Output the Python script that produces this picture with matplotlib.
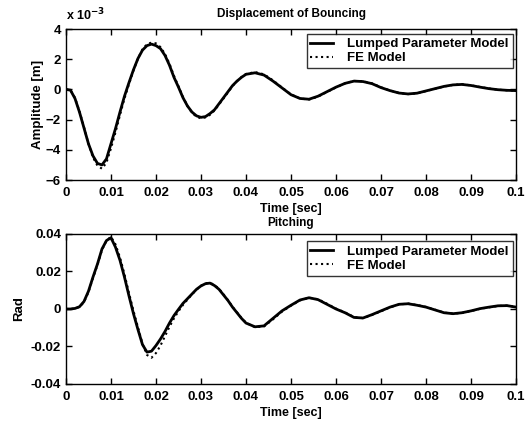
import matplotlib
matplotlib.use("Agg")
import matplotlib.pyplot as plt

plt.rcParams['font.family'] = ['Liberation Sans', 'DejaVu Sans']
plt.rcParams['font.weight'] = 'bold'

# fine steps up to 0.04 s, coarser afterwards
time = [i * 0.001 for i in range(41)] + [0.04 + i * 0.002 for i in range(1, 31)]

# bouncing displacement, in units of 1e-3 m
bounce_lumped = [0.0, -0.05, -0.6, -1.5, -2.55, -3.6, -4.4, -4.9, -5.0, -4.6,
                 -3.6, -2.6, -1.5, -0.45, 0.45, 1.3, 2.05, 2.6, 2.9, 3.0,
                 2.9, 2.7, 2.25, 1.6, 0.8, 0.15, -0.55, -1.1, -1.5, -1.75,
                 -1.85, -1.8, -1.6, -1.35, -0.95, -0.55, -0.15, 0.25, 0.55, 0.8,
                 1.0,
                 1.1, 0.95, 0.55, 0.1, -0.35, -0.6, -0.65, -0.45, -0.15, 0.15,
                 0.4, 0.55, 0.52, 0.38, 0.12, -0.08, -0.24, -0.3, -0.25, -0.1,
                 0.05, 0.2, 0.3, 0.33, 0.26, 0.15, 0.05, -0.02, -0.06, -0.08]
bounce_fe = [0.0, -0.05, -0.55, -1.45, -2.5, -3.6, -4.5, -5.05, -5.25, -4.85,
             -3.9, -2.85, -1.7, -0.6, 0.35, 1.25, 2.05, 2.65, 3.0, 3.1,
             3.05, 2.8, 2.35, 1.7, 0.9, 0.2, -0.5, -1.1, -1.55, -1.8,
             -1.92, -1.85, -1.68, -1.4, -1.0, -0.6, -0.2, 0.22, 0.55, 0.82,
             1.02,
             1.15, 1.0, 0.6, 0.12, -0.33, -0.6, -0.67, -0.48, -0.17, 0.13,
             0.4, 0.56, 0.54, 0.4, 0.14, -0.07, -0.23, -0.31, -0.26, -0.11,
             0.04, 0.19, 0.3, 0.34, 0.27, 0.16, 0.06, -0.02, -0.06, -0.08]

# pitching angle, rad
pitch_lumped = [0.0, 0.0, 0.0003, 0.0012, 0.004, 0.0095, 0.017, 0.024, 0.032, 0.0365,
                0.038, 0.033, 0.026, 0.017, 0.007, -0.0025, -0.011, -0.019, -0.023, -0.0225,
                -0.0195, -0.016, -0.012, -0.0075, -0.0035, -0.0002, 0.003, 0.0055, 0.008, 0.0105,
                0.0123, 0.0135, 0.0138, 0.0125, 0.0105, 0.0075, 0.0045, 0.001, -0.002, -0.005,
                -0.0075,
                -0.0095, -0.009, -0.005, -0.001, 0.002, 0.0048, 0.006, 0.005, 0.0025, 0.0,
                -0.002, -0.0045, -0.0048, -0.003, -0.001, 0.001, 0.0025, 0.0028, 0.002, 0.001,
                -0.0005, -0.002, -0.0025, -0.002, -0.001, 0.0002, 0.001, 0.0017, 0.0018, 0.001]
pitch_fe = [0.0, 0.0, 0.0003, 0.0011, 0.0037, 0.009, 0.0165, 0.0235, 0.0315, 0.0365,
            0.0385, 0.0345, 0.0275, 0.0185, 0.0085, -0.001, -0.0098, -0.0185, -0.0245, -0.026,
            -0.0235, -0.0195, -0.0145, -0.0095, -0.005, -0.0012, 0.0022, 0.005, 0.0078, 0.0103,
            0.0124, 0.0137, 0.014, 0.0128, 0.0108, 0.0078, 0.0047, 0.0012, -0.0018, -0.0048,
            -0.0073,
            -0.0097, -0.0093, -0.0055, -0.0014, 0.0018, 0.0046, 0.006, 0.0052, 0.0028, 0.0002,
            -0.0018, -0.0043, -0.0049, -0.0032, -0.0012, 0.0009, 0.0024, 0.0029, 0.0021, 0.0011,
            -0.0004, -0.0019, -0.0025, -0.0021, -0.0011, 0.0001, 0.0009, 0.0016, 0.0018, 0.0011]

x_ticks = [0, 0.01, 0.02, 0.03, 0.04, 0.05, 0.06, 0.07, 0.08, 0.09, 0.1]
x_ticklabels = ['0', '0.01', '0.02', '0.03', '0.04', '0.05', '0.06', '0.07', '0.08', '0.09', '0.1']

fig = plt.figure(figsize=(5.32, 4.21), dpi=100)
ax1 = fig.add_axes([0.124, 0.5724, 0.846, 0.3587])
ax2 = fig.add_axes([0.124, 0.0879, 0.846, 0.3563])

def style(ax, leg_top):
    ax.set_xlim(0, 0.1)
    ax.set_xticks(x_ticks)
    ax.set_xticklabels(x_ticklabels)
    ax.tick_params(direction='in', top=True, right=True, length=4, width=1, labelsize=9.5)
    ax.tick_params(axis='x', pad=5)
    for s in ax.spines.values():
        s.set_linewidth(1)
    ax.set_xlabel('Time [sec]', fontsize=9, fontweight='bold', labelpad=3)
    leg = ax.legend(loc='upper right', bbox_to_anchor=(0.993, leg_top), borderaxespad=0,
                    fancybox=False, edgecolor='black', fontsize=9.5, handlelength=1.7,
                    handletextpad=1.1, borderpad=0.3, labelspacing=0.15)
    leg.get_frame().set_linewidth(1)

ax1.plot(time, bounce_lumped, '-', color='black', lw=2, label='Lumped Parameter Model')
ax1.plot(time, bounce_fe, ':', color='black', lw=1.5, label='FE Model')
ax1.set_ylim(-6, 4)
ax1.set_yticks([-6, -4, -2, 0, 2, 4])
ax1.set_ylabel('Amplitude [m]', fontsize=9.5, fontweight='bold', labelpad=1)
ax1.set_title('Displacement of Bouncing', fontsize=8.5, fontweight='bold', pad=9)
ax1.text(0.0, 1.06, 'x 10$^{-3}$', transform=ax1.transAxes, fontsize=9, fontweight='bold')
style(ax1, 0.967)

ax2.plot(time, pitch_lumped, '-', color='black', lw=2, label='Lumped Parameter Model')
ax2.plot(time, pitch_fe, ':', color='black', lw=1.5, label='FE Model')
ax2.set_ylim(-0.04, 0.04)
ax2.set_yticks([-0.04, -0.02, 0, 0.02, 0.04])
ax2.set_yticklabels(['-0.04', '-0.02', '0', '0.02', '0.04'])
ax2.set_ylabel('Rad', fontsize=9.5, fontweight='bold', labelpad=4)
ax2.set_title('Pitching', fontsize=8.5, fontweight='bold', pad=6)
style(ax2, 0.95)

fig.savefig('out.png', dpi=100)
